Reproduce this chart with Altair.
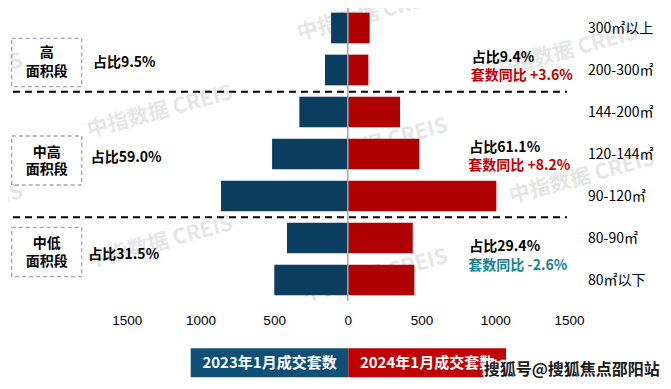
import altair as alt
import pandas as pd

# ---------------- data ----------------
categories = ["300㎡以上", "200-300㎡", "144-200㎡", "120-144㎡", "90-120㎡", "80-90㎡", "80㎡以下"]
sales_2023 = [114, 155, 329, 514, 860, 413, 499]
sales_2024 = [148, 139, 354, 485, 1007, 440, 451]
tick_values = [-1500, -1000, -500, 0, 500, 1000, 1500]
series_names = ["2023年1月成交套数", "2024年1月成交套数"]
group_lines = [["高", "面积段"], ["中高", "面积段"], ["中低", "面积段"]]
share_2023 = ["占比9.5%", "占比59.0%", "占比31.5%"]
share_2024 = ["占比9.4%", "占比61.1%", "占比29.4%"]
yoy_2024 = ["套数同比 +3.6%", "套数同比 +8.2%", "套数同比 -2.6%"]
watermark_text = "中指数据 CREIS"
source_text = "搜狐号@搜狐焦点邵阳站"

rows = []
for c, a, b in zip(categories, sales_2023, sales_2024):
    rows.append({"category": c, "series": series_names[0], "value": -a, "zero": 0})
    rows.append({"category": c, "series": series_names[1], "value": b, "zero": 0})
df = pd.DataFrame(rows)

# ---------------- layout / style ----------------
W, H = 655, 373
CJK = "Noto Sans CJK SC"
LAT = "Liberation Sans"
BLUE, RED = "#0b3d5e", "#b00000"
LEG_BLUE, LEG_RED = "#0e5076", "#c00000"
TEAL = "#17808b"

x_scale = alt.Scale(domain=[-2305.2, 2137.6], nice=False, zero=False)
y_scale = alt.Scale(domain=categories, range=[-1, 293], paddingInner=0.269, paddingOuter=0.1345)

one = pd.DataFrame({"t": [""]})


def text_at(txt, x, y, size=14, color="black", weight="bold", align="left", font=CJK, angle=0, **kw):
    return alt.Chart(pd.DataFrame({"t": [txt]})).mark_text(
        align=align, baseline="middle", fontSize=size, color=color, fontWeight=weight,
        font=font, angle=angle, **kw
    ).encode(x=alt.value(x), y=alt.value(y), text="t:N")


layers = []

# watermarks (behind everything)
wm_centers = [(-58, 72), (152, 104), (367, 137), (574, 170),
              (-58, 203), (152, 235), (367, 268), (362, 7), (557, 44)]
for cx, cy in wm_centers:
    layers.append(text_at(watermark_text, cx, cy, size=21, color="#e6e6e6",
                          align="center", angle=345))

# bars
bars = alt.Chart(df).mark_bar().encode(
    x=alt.X("value:Q", scale=x_scale,
            axis=alt.Axis(values=tick_values, labelExpr="format(abs(datum.value), 'd')",
                          domain=False, ticks=False, tickSize=0, grid=False, title=None,
                          labelFont=LAT, labelFontSize=13.5, labelColor="black",
                          labelPadding=0, offset=-68)),
    x2=alt.X2("zero:Q"),
    y=alt.Y("category:N", scale=y_scale, axis=None),
    color=alt.Color("series:N", scale=alt.Scale(domain=series_names, range=[BLUE, RED]), legend=None),
)
layers.append(bars)

# center line
layers.append(alt.Chart(one).mark_rule(color="#a6a6a6", strokeWidth=1.5).encode(
    x=alt.datum(0), y=alt.value(-1), y2=alt.value(293)))

# dashed separators
for yy in [83.7, 209.3]:
    layers.append(alt.Chart(one).mark_rule(color="black", strokeDash=[7, 5], strokeWidth=2).encode(
        x=alt.value(5), x2=alt.value(559), y=alt.value(yy)))

# category labels (right)
layers.append(alt.Chart(pd.DataFrame({"category": categories})).mark_text(
    align="left", baseline="middle", font=CJK, fontSize=14, color="black", dy=1
).encode(y=alt.Y("category:N", scale=y_scale, axis=None), x=alt.value(580), text="category:N"))

# group boxes (left)
boxes = [(30.3, 78.7), (128, 177), (219.3, 268.7)]
box_text_y = [(45.3, 63.7), (144.7, 162), (236, 253.7)]
for (y0, y1), (ty0, ty1), lines in zip(boxes, box_text_y, group_lines):
    layers.append(alt.Chart(one).mark_rect(fillOpacity=0, stroke="#a6a6a6", strokeDash=[4, 3],
                                           strokeWidth=1.3).encode(
        x=alt.value(3.7), x2=alt.value(73.7), y=alt.value(y0), y2=alt.value(y1)))
    layers.append(text_at(lines[0], 38.7, ty0, size=14, align="center"))
    layers.append(text_at(lines[1], 38.7, ty1, size=14, align="center"))

# left share labels
for txt, (xx, yy) in zip(share_2023, [(85, 55.3), (82.7, 150.3), (80.3, 247)]):
    layers.append(text_at(txt, xx, yy, size=14))

# right share + yoy labels
right_pos = [((463.7, 50.3), (462.7, 67.5)), ((461.3, 139.7), (460.3, 157.7)), ((461.3, 238.7), (460.3, 257.7))]
yoy_colors = [LEG_RED, LEG_RED, TEAL]
for s, yo, (p1, p2), col in zip(share_2024, yoy_2024, right_pos, yoy_colors):
    layers.append(text_at(s, p1[0], p1[1], size=14))
    layers.append(text_at(yo, p2[0], p2[1], size=14, color=col))

# legend boxes
layers.append(alt.Chart(one).mark_rect(color=LEG_BLUE).encode(
    x=alt.value(182.7), x2=alt.value(340.3), y=alt.value(340.3), y2=alt.value(369.3)))
layers.append(alt.Chart(one).mark_rect(color=LEG_RED).encode(
    x=alt.value(340.3), x2=alt.value(498), y=alt.value(340.3), y2=alt.value(369.3)))
layers.append(text_at(series_names[0], 261.5, 355.3, size=15, color="white", align="center"))
layers.append(text_at(series_names[1], 419, 355.3, size=15, color="white", align="center"))

# source watermark
layers.append(text_at(source_text, 563.7, 362, size=16, color="white", align="center",
                      stroke="white", strokeWidth=3))
layers.append(text_at(source_text, 563.7, 362, size=16, color="#1a1a1a", align="center"))

chart = alt.layer(*layers).properties(
    width=W, height=H, autosize=alt.AutoSizeParams(type="none"), padding=0,
    background="white"
).configure_view(stroke=None)

chart.save("out.html", embed_options={"renderer": "svg", "actions": False})
